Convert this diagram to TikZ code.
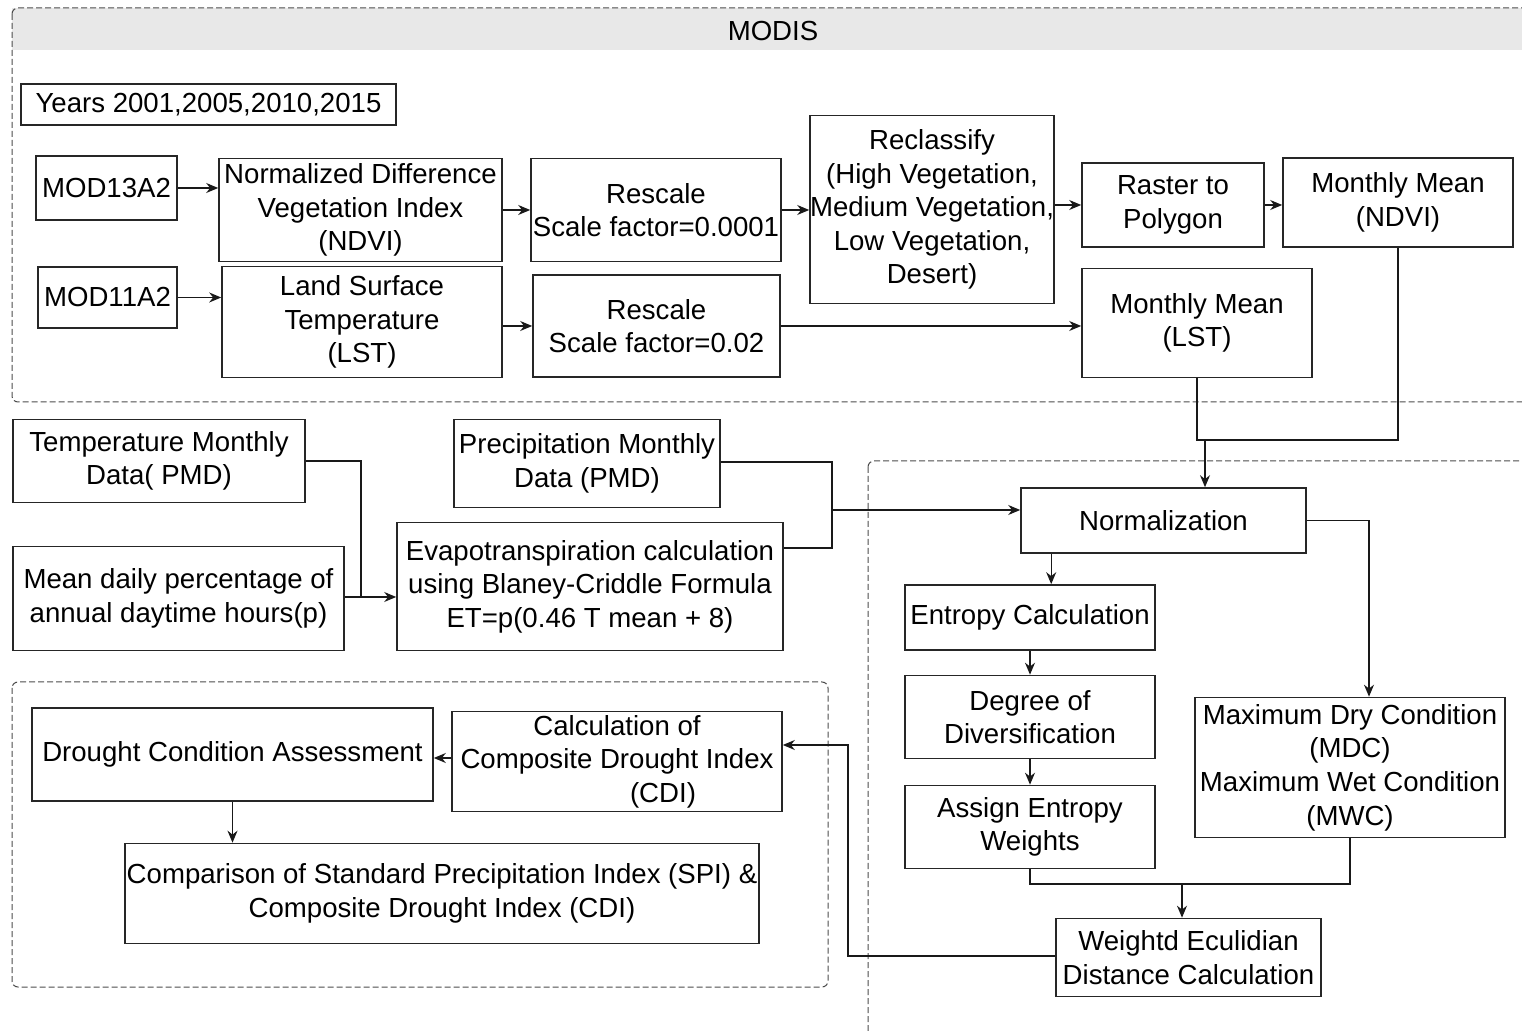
\documentclass[tikz,border=0pt]{standalone}
\usepackage{fontspec}
\setmainfont{Liberation Sans}
\usetikzlibrary{arrows.meta,calc}
\begin{document}
\begin{tikzpicture}[x=0.5pt,y=-0.5pt]
\tikzset{
 box/.style={draw=black!85, line width=0.8pt, fill=white, align=center, inner sep=0pt,
   font=\fontsize{13.8pt}{16.8pt}\selectfont},
 sz/.style 2 args={minimum width=#1*0.5pt, minimum height=#2*0.5pt},
 arr/.style={-{Stealth[length=6pt,width=5pt]}, line width=0.65pt, draw=black!90},
 ln/.style={line width=0.65pt, draw=black!90},
 grp/.style={draw=black!70, dash pattern=on 3pt off 1.5pt, line width=0.5pt, rounded corners=3pt},
}
\useasboundingbox (0,0) rectangle (1522,1031);
% group frames
\fill[black!9] (12,8) rectangle (1530,50);
\draw[grp] (12,8) rectangle (1530,402);
\node[font=\fontsize{13.8pt}{16.8pt}\selectfont] (modis) at (773,31) {MODIS};
\draw[grp] (12,682) rectangle (828,987);
\draw[grp] (868,461) rectangle (1530,1045);

% MODIS nodes
\node[box, sz={375}{41}] (years) at (208.5,104.5) {Years 2001,2005,2010,2015};
\node[box, sz={141}{64}] (mod13) at (106.5,188) {MOD13A2};
\node[box, sz={283}{103}] (ndvi) at (360.5,210) {Normalized Difference\\Vegetation Index\\(NDVI)};
\node[box, sz={250}{103}] (resc1) at (656,210) {Rescale\\Scale factor=0.0001};
\node[box, sz={244}{188}] (recl) at (932,209.5) {Reclassify\\(High Vegetation,\\Medium Vegetation,\\Low Vegetation,\\Desert)};
\node[box, sz={182}{84}] (rast) at (1173,205) {Raster to\\Polygon};
\node[box, sz={230}{89}] (mmndvi) at (1398,202.5) {Monthly Mean\\(NDVI)};
\node[box, sz={139}{61}] (mod11) at (107.5,297.5) {MOD11A2};
\node[box, sz={280}{111}] (lst) at (362,322) {Land Surface\\Temperature\\(LST)};
\node[box, sz={247}{102}] (resc2) at (656.5,326) {Rescale\\Scale factor=0.02};
\node[box, sz={230}{109}] (mmlst) at (1197,323) {Monthly Mean\\(LST)};

% middle nodes
\node[box, sz={292}{83}] (temp) at (159,461) {Temperature Monthly\\Data( PMD)};
\node[box, sz={266}{88}] (precip) at (587,463.5) {Precipitation Monthly\\Data (PMD)};
\node[box, sz={331}{104}] (mean) at (178.5,598.5) {Mean daily percentage of\\annual daytime hours(p)};
\node[box, sz={386}{128}] (et) at (590,586.5) {Evapotranspiration calculation\\using Blaney-Criddle Formula\\ET=p(0.46 T mean + 8)};

% right group
\node[box, sz={285}{65}] (norm) at (1163.5,520.5) {Normalization};
\node[box, sz={250}{65}] (entr) at (1030,617.5) {Entropy Calculation};
\node[box, sz={250}{83}] (deg) at (1030,717) {Degree of\\Diversification};
\node[box, sz={250}{83}] (assign) at (1030,827) {Assign Entropy\\Weights};
\node[box, sz={310}{140}] (maxd) at (1350,767.5) {Maximum Dry Condition\\(MDC)\\Maximum Wet Condition\\(MWC)};
\node[box, sz={265}{78}] (weu) at (1188.5,957.5) {Weightd Eculidian\\Distance Calculation};

% bottom-left group
\node[box, sz={401}{93}] (dca) at (232.5,754.5) {Drought Condition Assessment};
\node[box, sz={330}{100}] (cdi) at (617,761.5) {Calculation of\\Composite Drought Index\\\hspace*{92\dimexpr0.5pt\relax}(CDI)};
\node[box, sz={634}{100}] (comp) at (442,893.5) {Comparison of Standard Precipitation Index (SPI) \&\\Composite Drought Index (CDI)};

% connectors MODIS
\draw[arr] (mod13.east) -- (mod13.east -| ndvi.west);
\draw[arr] (ndvi.east) -- (ndvi.east -| resc1.west);
\draw[arr] (resc1.east) -- (resc1.east -| recl.west);
\draw[arr] (rast.west -| recl.east) -- (rast.west);
\draw[arr] (rast.east) -- (rast.east -| mmndvi.west);
\draw[arr] (mod11.east) -- (mod11.east -| lst.west);
\draw[arr] (resc2.west -| lst.east) -- (resc2.west);
\draw[arr] (resc2.east) -- (resc2.east -| mmlst.west);
\coordinate (jn) at (1205,440);
\draw[ln] (mmlst.south) |- (jn) -| (mmndvi.south);
\draw[arr] (jn) -- (jn |- norm.north);

% temperature / ET
\coordinate (tk) at (361,597);
\draw[arr] (temp.east) -| (tk) -- (tk -| et.west);
\draw[ln] (mean.east |- tk) -- (tk);
\coordinate (pk) at (832,548);
\coordinate (etout) at (et.east |- pk);
\draw[ln] (precip.east |- 0,462) -| (pk) -- (etout);
\coordinate (nin) at (832,510);
\draw[arr] (nin) -- (nin -| norm.west);

% right group connectors
\coordinate (na) at ($(norm.south west)+(31,0)$);
\draw[arr] (na) -- (na |- entr.north);
\draw[arr] (entr.south) -- (deg.north);
\draw[arr] (deg.south) -- (assign.north);
\draw[arr] (norm.east) -| ($(maxd.north)+(19,0)$);
\coordinate (wj) at (1182,884);
\draw[ln] (assign.south) |- (wj) -| (maxd.south);
\draw[arr] (wj) -- (wj |- weu.north);
\coordinate (wk) at (848,745);
\coordinate (cin) at (cdi.east |- wk);
\draw[arr] (weu.west |- 0,956) -| (wk) -- (cin);

% bottom-left connectors
\draw[arr] (cdi.west |- 0,758) -- (dca.east |- 0,758);
\draw[arr] (dca.south) -- (dca.south |- comp.north);
\end{tikzpicture}
\end{document}
